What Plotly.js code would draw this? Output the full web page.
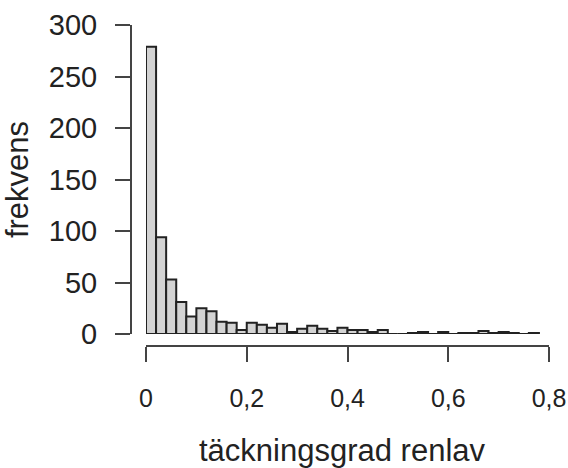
<!DOCTYPE html>
<html>
<head>
<meta charset="utf-8">
<script src="https://cdn.plot.ly/plotly-3.0.1.min.js"></script>
<style>html,body{margin:0;padding:0;background:#fff;}#chart{width:568px;height:468px;}</style>
</head>
<body>
<div id="chart"></div>
<script>
// Histogram of "täckningsgrad renlav": bins of width 0.02 starting at 0
const binStart = 0;
const binWidth = 0.02;
const counts = [279, 94, 53, 31, 17, 25, 22, 12, 11, 4, 11, 9, 6, 10, 2, 5, 8, 5, 3, 6,
                4, 4, 2, 4, 0, 0, 1, 2, 0, 2, 0, 1, 1, 3, 1, 2, 1, 0, 1];
const xTickVals = [0, 0.2, 0.4, 0.6, 0.8];
const xTickText = ['0', '0,2', '0,4', '0,6', '0,8'];
const yTickVals = [0, 50, 100, 150, 200, 250, 300];
const yTickText = ['0', '50', '100', '150', '200', '250', '300'];
const xTitle = 'täckningsgrad renlav';
const yTitle = 'frekvens';

const centers = counts.map((_, i) => binStart + (i + 0.5) * binWidth);
const binsMid = binStart + counts.length * binWidth / 2;

const trace = {
  type: 'bar',
  x: centers,
  y: counts,
  width: counts.map(() => binWidth),
  marker: {color: '#d3d3d3', line: {color: '#222222', width: 2}},
  hoverinfo: 'x+y'
};

const W = 568, H = 468;
const mL = 131, mR = 19, mT = 25, mB = 122;
const plotW = W - mL - mR, plotH = H - mT - mB;

const layout = {
  width: W, height: H,
  margin: {l: mL, r: mR, t: mT, b: mB, pad: 0},
  paper_bgcolor: '#ffffff', plot_bgcolor: '#ffffff',
  showlegend: false,
  bargap: 0,
  font: {family: '"Liberation Sans", Arial, sans-serif', color: '#222222'},
  xaxis: {
    domain: [15 / plotW, 1],
    range: [0, 0.8],
    anchor: 'free', position: 0,
    showline: true, linecolor: '#444444', linewidth: 2,
    ticks: 'outside', ticklen: 15, tickwidth: 2, tickcolor: '#444444',
    tickvals: xTickVals, ticktext: xTickText,
    tickfont: {size: 25, color: '#222222'},
    ticklabelstandoff: 15,
    showgrid: false, zeroline: false
  },
  yaxis: {
    domain: [12 / plotH, 1],
    range: [0, 300],
    anchor: 'free', position: 0,
    showline: true, linecolor: '#444444', linewidth: 2,
    ticks: 'outside', ticklen: 15, tickwidth: 2, tickcolor: '#444444',
    tickvals: yTickVals, ticktext: yTickText,
    tickfont: {size: 29, color: '#222222'},
    ticklabelstandoff: 12,
    showgrid: false, zeroline: false,
    title: {text: yTitle, font: {size: 31, color: '#222222'}, standoff: 14}
  },
  annotations: [{
    text: xTitle,
    xref: 'x', x: binsMid,
    yref: 'paper', y: -104 / plotH,
    xanchor: 'center', yanchor: 'middle',
    showarrow: false,
    font: {size: 31, color: '#222222'}
  }]
};

Plotly.newPlot('chart', [trace], layout, {displayModeBar: false, staticPlot: true});
</script>
</body>
</html>
